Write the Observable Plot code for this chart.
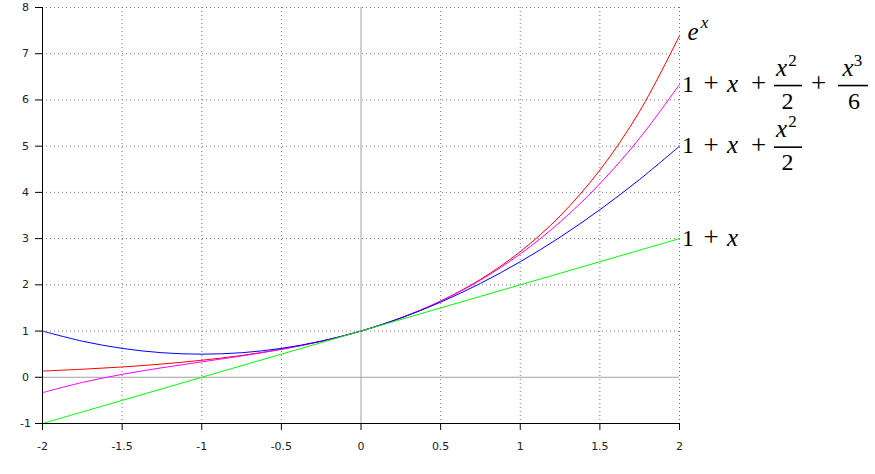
<!DOCTYPE html>
<html>
<head>
<meta charset="utf-8">
<script src="https://cdn.jsdelivr.net/npm/d3@7"></script>
<script src="https://cdn.jsdelivr.net/npm/@observablehq/plot@0.6"></script>
<style>
  html, body { margin: 0; padding: 0; background: #fff; }
  #chart svg { display: block; overflow: visible; }
  #chart svg text.math { font-family: "Liberation Serif", "DejaVu Serif", serif !important; }
</style>
</head>
<body>
<div id="chart"></div>
<script>
// ---- data ----
const xs      = [-2, -1.75, -1.5, -1.25, -1, -0.75, -0.5, -0.25, 0, 0.25, 0.5, 0.75, 1, 1.25, 1.5, 1.75, 2];
const expY    = [0.135, 0.174, 0.223, 0.287, 0.368, 0.472, 0.607, 0.779, 1, 1.284, 1.649, 2.117, 2.718, 3.49, 4.482, 5.755, 7.389];
const cubicY  = [-0.333, -0.112, 0.063, 0.206, 0.333, 0.461, 0.604, 0.779, 1, 1.284, 1.646, 2.102, 2.667, 3.357, 4.188, 5.174, 6.333];
const quadY   = [1, 0.781, 0.625, 0.531, 0.5, 0.531, 0.625, 0.781, 1, 1.281, 1.625, 2.031, 2.5, 3.031, 3.625, 4.281, 5];
const linY    = [-1, -0.75, -0.5, -0.25, 0, 0.25, 0.5, 0.75, 1, 1.25, 1.5, 1.75, 2, 2.25, 2.5, 2.75, 3];
const seriesNames  = ["exp", "cubic", "quad", "linear"];
const seriesValues = [expY, cubicY, quadY, linY];
const seriesColors = ["#ff0000", "#ff00ff", "#0000ff", "#00ff00"];
const xTicks      = [-2, -1.5, -1, -0.5, 0, 0.5, 1, 1.5, 2];
const xTickLabels = ["-2", "-1.5", "-1", "-0.5", "0", "0.5", "1", "1.5", "2"];
const yTicks      = [-1, 0, 1, 2, 3, 4, 5, 6, 7, 8];
const yTickLabels = ["-1", "0", "1", "2", "3", "4", "5", "6", "7", "8"];

const rows = [];
seriesNames.forEach((s, i) => xs.forEach((x, j) => rows.push({series: s, x, y: seriesValues[i][j]})));

const chart = Plot.plot({
  width: 875,
  height: 474,
  marginLeft: 42,
  marginRight: 196,
  marginTop: 7,
  marginBottom: 51,
  style: {fontFamily: "DejaVu Sans", fontSize: "11px", background: "#fff"},
  x: {domain: [-2, 2], label: null},
  y: {domain: [-1, 8], label: null},
  color: {domain: seriesNames, range: seriesColors},
  marks: [
    Plot.gridX(xTicks.filter(d => d !== 0), {stroke: "#777", strokeOpacity: 1, strokeDasharray: "1,3"}),
    Plot.gridY(yTicks.filter(d => d !== 0), {stroke: "#777", strokeOpacity: 1, strokeDasharray: "1,3"}),
    Plot.ruleX([0], {stroke: "#a0a0a0"}),
    Plot.ruleY([0], {stroke: "#a0a0a0"}),
    Plot.line(rows, {x: "x", y: "y", z: "series", stroke: "series", strokeWidth: 1, curve: "catmull-rom"}),
    Plot.ruleX([-2], {stroke: "#000"}),
    Plot.ruleY([-1], {stroke: "#000"}),
    Plot.axisX(xTicks, {tickSize: 7, tickPadding: 12, stroke: "#000", fill: "#222", fontSize: 11, label: null,
      tickFormat: d => xTickLabels[xTicks.indexOf(d)]}),
    Plot.axisY(yTicks, {tickSize: 7, tickPadding: 10, textAnchor: "middle", stroke: "#000", fill: "#222", fontSize: 11, label: null,
      tickFormat: d => yTickLabels[yTicks.indexOf(d)]})
  ]
});
document.getElementById("chart").appendChild(chart);

// ---- math labels at the curve ends ----
const sx = chart.scale("x"), sy = chart.scale("y");
const svg = d3.select(chart);
const g = svg.append("g").attr("fill", "#000");
const x0 = sx.apply(2);
function glyph(t, cx, y, size, italic) {
  g.append("text").attr("class", "math").attr("x", cx).attr("y", y).attr("text-anchor", "middle")
    .attr("font-family", "Liberation Serif")
    .style("font-size", size + "px").style("font-style", italic ? "italic" : "normal").text(t);
}
function bar(xa, xb, y) {
  g.append("line").attr("x1", xa).attr("x2", xb).attr("y1", y).attr("y2", y)
    .attr("stroke", "#000").attr("stroke-width", 1.6);
}
function frac(num, sup, den, xa, xb, numDx, supDx, denDx, yb) {
  bar(x0 + xa, x0 + xb, yb);
  glyph(num, x0 + numDx, yb - 10, 25, true);
  glyph(sup, x0 + supDx, yb - 20, 17, false);
  glyph(den, x0 + denDx, yb + 23, 24, false);
}
function onePlusX(yc) {
  glyph("1", x0 + 9, yc + 7.5, 24, false);
  glyph("+", x0 + 32, yc + 8, 27, false);
  glyph("x", x0 + 53.5, yc + 7.5, 25, true);
}
// e^x
{
  const yc = sy.apply(expY[expY.length - 1]);
  glyph("e", x0 + 14, yc + 5, 25, true);
  glyph("x", x0 + 25.5, yc - 7, 17, true);
}
// 1 + x + x^2/2 + x^3/6
{
  const yc = sy.apply(cubicY[cubicY.length - 1]);
  onePlusX(yc);
  glyph("+", x0 + 79.5, yc + 8, 27, false);
  frac("x", "2", "2", 95, 123, 102.5, 113.5, 108.5, yc + 1.5);
  glyph("+", x0 + 139.5, yc + 8, 27, false);
  frac("x", "3", "6", 159, 189, 169, 179, 175, yc + 1.5);
}
// 1 + x + x^2/2
{
  const yc = sy.apply(quadY[quadY.length - 1]);
  onePlusX(yc);
  glyph("+", x0 + 79.5, yc + 8, 27, false);
  frac("x", "2", "2", 95, 123, 102.5, 113.5, 108.5, yc + 1.5);
}
// 1 + x
{
  const yc = sy.apply(linY[linY.length - 1]);
  onePlusX(yc);
}
</script>
</body>
</html>
